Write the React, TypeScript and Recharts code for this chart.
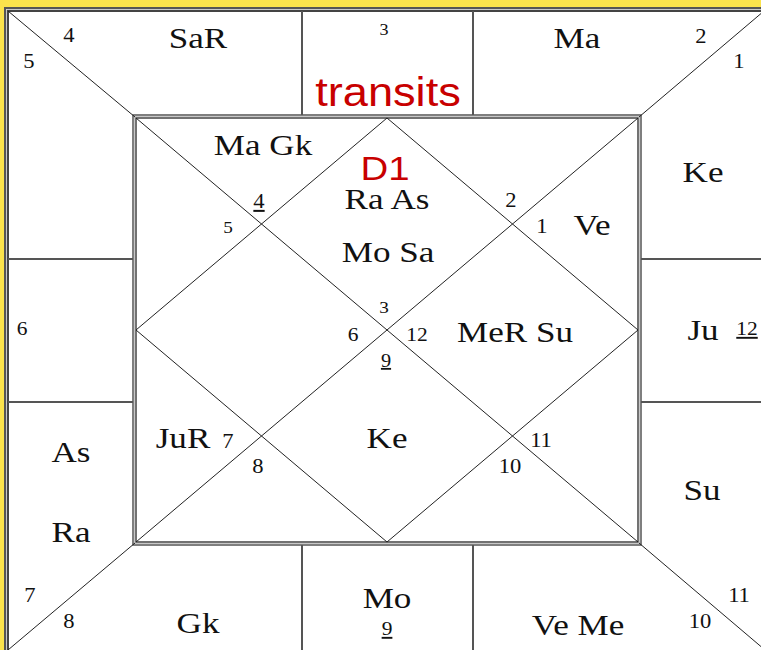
import { ScatterChart, Scatter, XAxis, YAxis, ReferenceLine, ReferenceArea } from 'recharts'

// chart units: one unit = one pixel of the 761x650 board
const boardWidth = 761
const boardHeight = 650

// double-line frames: [x1, y1, x2, y2]
const outerFrame = [
  { x1: 5, y1: 8, x2: 774, y2: 660, stroke: '#555555', width: 2 },
  { x1: 6.5, y1: 9.5, x2: 772, y2: 658, stroke: '#c8c8c8', width: 1 },
  { x1: 8, y1: 11, x2: 770, y2: 656, stroke: '#444444', width: 2 },
]
const innerFrame = [
  { x1: 133, y1: 115, x2: 641, y2: 545, stroke: '#555555', width: 1.5 },
  { x1: 134.5, y1: 116.5, x2: 639.5, y2: 543.5, stroke: '#c8c8c8', width: 1 },
  { x1: 136, y1: 118, x2: 638, y2: 542, stroke: '#444444', width: 1.5 },
]

// cell dividers of the outer ring
const dividers = [
  { from: [302, 11], to: [302, 115] },
  { from: [473, 11], to: [473, 115] },
  { from: [302, 545], to: [302, 656] },
  { from: [473, 545], to: [473, 656] },
  { from: [8, 259], to: [133, 259] },
  { from: [8, 402], to: [133, 402] },
  { from: [641, 259], to: [770, 259] },
  { from: [641, 402], to: [770, 402] },
]

// thin diagonal lines
const diagonals = [
  { from: [8, 11], to: [135, 117] },
  { from: [639, 117], to: [764, 11] },
  { from: [135, 543], to: [8, 650] },
  { from: [639, 543], to: [765, 650] },
  { from: [136, 118], to: [638, 542] },
  { from: [638, 118], to: [136, 542] },
  { from: [387, 118], to: [638, 330] },
  { from: [638, 330], to: [387, 542] },
  { from: [387, 542], to: [136, 330] },
  { from: [136, 330], to: [387, 118] },
]

const houseNumbers = [
  // outer ring
  { x: 69, y: 42, label: '4', size: 20 },
  { x: 29, y: 68, label: '5', size: 20 },
  { x: 384, y: 35, label: '3', size: 16 },
  { x: 701, y: 43, label: '2', size: 20 },
  { x: 739, y: 68, label: '1', size: 20 },
  { x: 747, y: 335, label: '12', size: 19, underline: true },
  { x: 739, y: 602, label: '11', size: 20 },
  { x: 700, y: 628, label: '10', size: 20 },
  { x: 387, y: 635, label: '9', size: 19, underline: true },
  { x: 69, y: 628, label: '8', size: 20 },
  { x: 30, y: 602, label: '7', size: 20 },
  { x: 22, y: 335, label: '6', size: 19 },
  // inner diamond
  { x: 259, y: 208, label: '4', size: 20, underline: true },
  { x: 228, y: 233, label: '5', size: 17 },
  { x: 511, y: 207, label: '2', size: 20 },
  { x: 542, y: 233, label: '1', size: 20 },
  { x: 384, y: 313, label: '3', size: 17 },
  { x: 353, y: 341, label: '6', size: 19 },
  { x: 417, y: 341, label: '12', size: 19 },
  { x: 386, y: 367, label: '9', size: 18, underline: true },
  { x: 228, y: 448, label: '7', size: 20 },
  { x: 258, y: 473, label: '8', size: 20 },
  { x: 541, y: 447, label: '11', size: 20 },
  { x: 510, y: 473, label: '10', size: 20 },
]

const planets = [
  // transit chart (outer ring)
  { x: 198, y: 48, label: 'SaR' },
  { x: 577, y: 48, label: 'Ma' },
  { x: 703, y: 182, label: 'Ke' },
  { x: 703, y: 340, label: 'Ju' },
  { x: 702, y: 500, label: 'Su' },
  { x: 578, y: 635, label: 'Ve Me' },
  { x: 387, y: 608, label: 'Mo' },
  { x: 198, y: 633, label: 'Gk' },
  { x: 71, y: 542, label: 'Ra' },
  { x: 71, y: 462, label: 'As' },
  // birth chart (inner diamond)
  { x: 263, y: 155, label: 'Ma Gk' },
  { x: 387, y: 209, label: 'Ra As' },
  { x: 388, y: 262, label: 'Mo Sa' },
  { x: 592, y: 235, label: 'Ve' },
  { x: 515, y: 342, label: 'MeR Su' },
  { x: 183, y: 448, label: 'JuR' },
  { x: 387, y: 448, label: 'Ke' },
]

const titles = [
  { x: 388, y: 106, label: 'transits', size: 40 },
  { x: 385, y: 180, label: 'D1', size: 34 },
]

const serif = '"Liberation Serif", "Times New Roman", serif'
const sans = '"Liberation Sans", Arial, sans-serif'

function makeText(family: string, color: string, fallbackSize: number, stretch: number) {
  return (props: any) => {
    const { cx, cy, payload } = props
    return (
      <text
        transform={`translate(${cx} ${cy}) scale(${stretch} 1)`}
        x={0}
        y={0}
        textAnchor="middle"
        fontFamily={family}
        fontSize={payload.size ?? fallbackSize}
        fill={color}
        style={payload.underline ? { textDecoration: 'underline' } : undefined}
      >
        {payload.label}
      </text>
    )
  }
}

export default function App() {
  const frameLines = [...outerFrame, ...innerFrame]
  return (
    <div
      style={{
        position: 'absolute',
        left: 0,
        top: 0,
        width: boardWidth,
        height: boardHeight,
        background: '#FBE34C',
        overflow: 'hidden',
      }}
    >
      <ScatterChart
        width={boardWidth}
        height={boardHeight}
        margin={{ top: 0, right: 0, bottom: 0, left: 0 }}
      >
        <XAxis type="number" dataKey="x" domain={[0, boardWidth]} hide allowDataOverflow />
        <YAxis type="number" dataKey="y" domain={[0, boardHeight]} reversed hide allowDataOverflow />

        <ReferenceArea
          x1={5}
          x2={780}
          y1={8}
          y2={670}
          fill="#ffffff"
          fillOpacity={1}
          stroke="none"
          ifOverflow="visible"
        />

        {frameLines.map((r, i) => (
          <ReferenceArea
            key={`frame-${i}`}
            x1={r.x1}
            x2={r.x2}
            y1={r.y1}
            y2={r.y2}
            fill="none"
            stroke={r.stroke}
            strokeWidth={r.width}
            ifOverflow="visible"
          />
        ))}

        {dividers.map((d, i) => (
          <ReferenceLine
            key={`div-${i}`}
            segment={[
              { x: d.from[0], y: d.from[1] },
              { x: d.to[0], y: d.to[1] },
            ]}
            stroke="#555555"
            strokeWidth={2}
            ifOverflow="visible"
          />
        ))}

        {diagonals.map((d, i) => (
          <ReferenceLine
            key={`diag-${i}`}
            segment={[
              { x: d.from[0], y: d.from[1] },
              { x: d.to[0], y: d.to[1] },
            ]}
            stroke="#222222"
            strokeWidth={1}
            ifOverflow="visible"
          />
        ))}

        <Scatter data={houseNumbers} shape={makeText(serif, '#111111', 20, 1.13)} isAnimationActive={false} />
        <Scatter data={planets} shape={makeText(serif, '#111111', 30, 1.17)} isAnimationActive={false} />
        <Scatter data={titles} shape={makeText(sans, '#C80000', 36, 1.13)} isAnimationActive={false} />
      </ScatterChart>
    </div>
  )
}
